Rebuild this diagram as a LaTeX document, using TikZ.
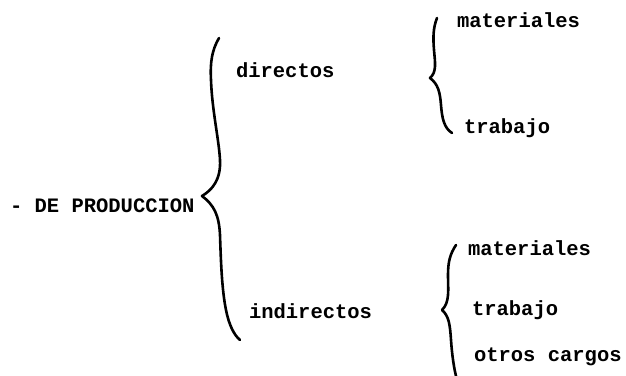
\documentclass[tikz,border=0pt]{standalone}
\usepackage{fontspec}
\setmonofont{Liberation Mono}
\begin{document}
\begin{tikzpicture}[x=1pt,y=-1pt,
  label/.style={anchor=base west,inner sep=0pt,outer sep=0pt,
    font=\fontsize{20.5}{24}\selectfont\ttfamily\bfseries},
  brace/.style={line width=2.6pt,line cap=round,line join=round}]
  \useasboundingbox[fill=white] (0,0) rectangle (626,375);

  % labels
  \node[label] (prod)  at (10,212)  {- DE PRODUCCION};
  \node[label] (dir)   at (236,77)  {directos};
  \node[label] (ind)   at (249,318) {indirectos};
  \node[label] (mat1)  at (457,27)  {materiales};
  \node[label] (trab1) at (464,133) {trabajo};
  \node[label] (mat2)  at (468,255) {materiales};
  \node[label] (trab2) at (472,315) {trabajo};
  \node[label] (otros) at (474,361) {otros cargos};

  % brace ends and tips
  \coordinate (B0top) at (219,38);
  \coordinate (B0tip) at (202,196);
  \coordinate (B0bot) at (240,340);
  \coordinate (B1top) at (437,18);
  \coordinate (B1tip) at (430,78);
  \coordinate (B1bot) at (452,133);
  \coordinate (B2top) at (456,245);
  \coordinate (B2tip) at (442,310);
  \coordinate (B2bot) at (456,376);

  % main brace
  \draw[brace] (B0top) .. controls (212,50) and (210,62) .. (211,80)
    .. controls (212,110) and (219,140) .. (220,160)
    .. controls (221,180) and (212,190) .. (B0tip)
    .. controls (214,205) and (219,215) .. (220,235)
    .. controls (221,265) and (222,290) .. (226,310)
    .. controls (229,325) and (234,335) .. (B0bot);

  % upper small brace
  \draw[brace] (B1top) .. controls (433,28) and (433,38) .. (434,50)
    .. controls (435,62) and (437,72) .. (B1tip)
    .. controls (438,84) and (440,92) .. (441,105)
    .. controls (442,118) and (444,128) .. (B1bot);

  % lower small brace
  \draw[brace] (B2top) .. controls (450,254) and (448,262) .. (448,275)
    .. controls (448,290) and (450,302) .. (B2tip)
    .. controls (449,316) and (450,325) .. (451,340)
    .. controls (452,355) and (454,368) .. (B2bot);
\end{tikzpicture}
\end{document}
